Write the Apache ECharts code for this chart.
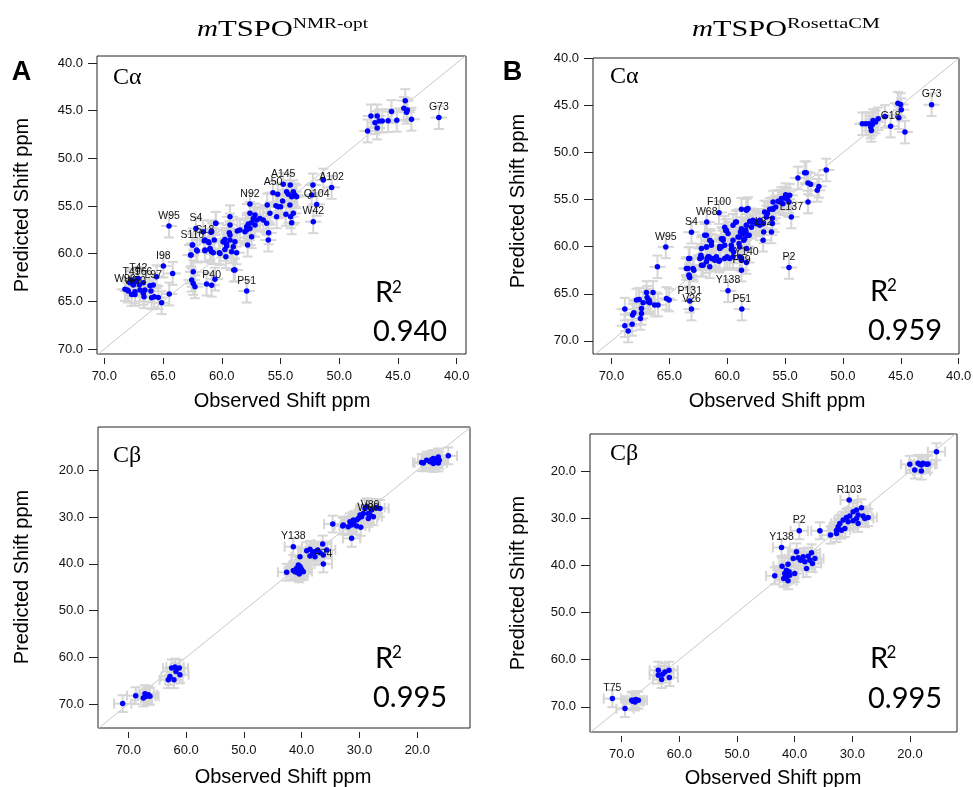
<!DOCTYPE html>
<html><head><meta charset="utf-8">
<script src="https://cdn.jsdelivr.net/npm/echarts@6/dist/echarts.min.js"></script>
<style>html,body{margin:0;padding:0;background:#fff}#c{width:973px;height:787px}</style>
</head><body><div id="c"></div>
<script>
// ---------------- DATA ----------------
const caTicks = [40, 45, 50, 55, 60, 65, 70];
const cbTicks = [20, 30, 40, 50, 60, 70];
const r2Values = ['0.940', '0.959', '0.995', '0.995'];

// Panel A: Calpha, mTSPO NMR-opt  [observed, predicted]
const caNmrPts = [
 [44.38,43.95],[44.5,44.76],[44.2,44.93],[44.27,45.17],[43.85,45.9],[45.55,45.1],[45.1,46.0],[45.84,46.05],[46.6,46.08],[46.77,45.56],[47.3,45.56],[46.96,46.26],[46.77,46.82],[47.59,47.13],[46.34,46.08],
 [51.36,52.28],[52.24,52.8],[52.35,53.85],[54.17,52.8],[54.48,53.5],[53.91,53.5],[53.77,53.85],[54.05,54.03],[54.34,53.78],[53.63,54.03],[54.82,54.48],[55.24,53.78],[55.19,55.08],[55.39,54.97],[54.99,55.08],[54.2,54.9],[53.91,55.77],[54.14,56.13],[54.05,56.76],[54.54,55.87],[56.13,54.9],[55.9,55.77],[55.33,56.13],[56.18,56.82],[56.01,57.81],[56.04,58.57],
 [57.6,55.77],[57.17,55.95],[57.32,56.3],[57.03,56.47],[56.75,56.3],[56.47,56.47],[57.46,56.76],[57.74,56.89],[57.88,57.18],[57.6,57.35],[57.17,57.0],[57.88,57.52],[58.03,57.7],[57.46,58.22],[57.8,59.1],[58.45,57.52],[58.68,57.63],[59.3,56.13],[59.3,57.0],[59.36,57.81],[59.3,58.57],[59.87,58.75],[59.58,59.2],[59.73,59.55],[60.15,59.97],[60.52,56.82],[60.86,57.7],[60.64,58.57],[61.15,58.75],[61.57,57.7],[61.0,59.45],[60.86,59.8],[61.43,59.62],[62.14,59.62],[62.65,60.15],[62.43,61.9],[62.56,62.77],[62.28,63.47],[62.43,63.12],[58.88,61.72],[61.29,63.19],[60.58,62.67],[64.18,62.07],
 [64.47,64.23],[65.12,65.14],[65.4,64.6],[65.55,62.41],[65.74,64.51],[65.97,64.62],[66.03,63.92],[66.54,63.81],[66.11,63.36],[66.62,64.51],[66.96,63.81],[67.02,63.29],[67.25,62.87],[67.67,62.76],[67.82,63.04],[67.53,63.29],[67.96,63.92],[67.67,64.27],[67.39,64.27],[68.04,63.81],[66.68,64.16],
 [62.62,60.14],[62.48,59.09],[62.09,59.72],[61.43,59.69],[60.99,59.55],[60.72,59.9],[60.21,59.9],[59.65,60.31],[59.87,58.74],[59.73,58.5],[59.3,58.04],[59.02,59.27],[59.16,59.79],[58.74,59.9],[58.88,58.74],[59.59,58.99],[58.98,61.71],[61.49,58.64],[61.09,58.85],[60.5,56.82],[60.92,57.76]
];
const caNmrLabNames = ['G73','A145','A102','A50','N92','Q104','W42','W95','S4','S18','S116','I98','P40','P51','T42','T66','L97','T49','W90','W50'];
const caNmrLabPts = [[41.52,45.73],[54.77,52.73],[50.65,53.05],[55.64,53.6],[57.6,54.8],[51.92,54.83],[52.21,56.65],[64.49,57.1],[62.2,57.35],[61.43,58.57],[62.51,59.1],[64.97,61.3],[60.86,63.3],[57.88,63.92],[67.11,62.59],[66.68,63.04],[65.83,63.29],[67.67,63.04],[68.24,63.74],[67.39,63.99]];

// Panel B: Calpha, mTSPO RosettaCM
const caRosPts = [
 [45.25,44.75],[45.02,44.89],[44.96,45.45],[45.17,46.3],[44.64,47.82],[46.37,46.16],[46.95,46.41],[47.18,46.76],[47.46,47.01],[47.75,46.94],[48.04,46.94],[48.33,46.94],[47.6,47.29],[47.54,47.65],[47.4,46.59],
 [51.44,51.85],[53.17,52.14],[53.31,52.14],[53.89,52.7],[53.02,53.23],[52.8,53.37],[52.08,53.59],[52.22,54.01],[53.02,55.25],[54.6,54.54],[54.95,54.47],[55.09,54.82],[55.32,54.89],[55.46,55.25],[54.66,55.25],[54.81,54.96],[55.18,55.43],[55.61,55.18],[56.04,55.25],[55.81,55.78],[56.1,55.96],[56.33,56.03],
 [56.53,56.48],[56.1,56.97],[56.9,57.55],[57.19,57.72],[57.48,57.55],[57.77,57.37],[57.91,57.9],[58.34,57.72],[58.4,58.25],[58.63,58.6],[58.2,58.78],[58.77,58.08],[58.86,58.43],[58.34,56.12],[58.2,55.95],[59.21,57.37],[59.5,57.72],[58.92,58.96],[58.49,59.13],[58.34,60.2],[58.98,59.66],[60.07,58.25],[59.93,58.6],[60.36,59.31],[60.22,59.84],[59.5,59.31],[60.51,60.02],[59.64,60.3],[59.5,61.07],[58.92,61.07],[58.77,61.43],[60.22,61.25],[60.65,61.43],[60.94,61.07],[61.08,61.43],[61.37,61.25],[61.66,61.07],[62.23,61.15],[62.23,61.96],[61.8,61.6],[61.51,62.14],[62.23,60.2],[61.8,60.02],[60.65,60.2],[61.37,59.49],[61.8,58.78],[61.51,59.31],[63.24,61.25],[62.95,62.31],[63.3,63.0],[63.24,63.27],[63.53,62.31],
 [68.85,68.4],[68.56,68.96],[68.22,68.25],[68.18,67.26],[68.07,67.02],[68.85,66.63],[67.84,65.67],[67.61,65.6],[67.41,66.56],[67.41,67.09],[67.5,67.62],[67.27,65.96],[66.98,64.86],[66.84,65.85],[66.69,65.96],[66.41,64.86],[66.27,66.2],[65.98,66.2],[66.92,65.39],[66.75,65.67],[65.25,65.5],[65.02,65.67],[66.03,62.14],
 [63.33,61.25],[63.39,62.31],[63.3,63.09],[62.89,62.49],[62.28,60.9],[62.37,61.25],[62.08,61.96],[61.79,60.02],[61.94,58.78],[61.74,61.25],[61.57,61.08],[61.37,59.84],[61.08,61.25],[60.71,61.54],[60.65,59.98],[60.51,59.16],[60.36,59.16],[60.22,57.93],[60.13,58.29],[60.01,61.08],[59.79,61.25],[59.65,59.84],[59.57,60.19],[59.45,60.55],[59.27,57.37],[59.07,58.96],[58.92,60.02],[58.77,61.25],
 [58.77,56.03],[58.34,56.03],[58.05,57.3],[57.76,57.19],[58.34,57.72],[57.91,57.9],[57.48,57.37],[57.19,57.19],[58.4,58.43],[58.11,58.78],[58.57,59.31],[56.9,59.31],[56.18,58.43],[56.1,57.54],[56.62,56.84],[56.77,56.31],[56.04,56.03]
];
const caRosLabNames = ['G73','G18','L137','L82','F100','W68','S4','W95','Y140','F99','P2','Y138','P131','V26','P51'];
const caRosLabPts = [[42.34,44.92],[45.88,47.19],[54.46,56.84],[56.85,58.43],[60.71,56.38],[61.77,57.37],[63.09,58.46],[65.31,60.02],[58.34,61.68],[58.77,62.49],[54.66,62.21],[59.93,64.69],[63.24,65.78],[63.09,66.63],[58.74,66.63]];

// Panel C: Cbeta, mTSPO NMR-opt
const cbNmrPts = [
 [14.63,16.94],[16.36,17.16],[17.22,17.51],[17.51,17.73],[16.94,18.01],[16.65,17.65],[17.8,18.22],[18.95,18.44],[18.38,17.87],[17.22,18.58],[19.24,18.36],[16.36,18.44],[16.19,17.87],
 [26.45,28.17],[27.14,27.96],[27.89,28.53],[28.18,29.59],[27.6,29.95],[29.34,29.24],[29.91,29.59],[29.05,28.17],[28.76,27.82],[29.63,29.95],[30.49,30.66],[30.2,30.31],[31.07,31.37],[31.36,31.73],[31.94,32.08],[32.8,31.73],[31.65,31.02],[31.07,30.66],[29.78,32.22],[30.49,31.94],[32.9,31.94],[34.63,31.51],[31.36,34.57],[28.47,29.24],
 [39.13,37.2],[38.56,36.92],[37.87,37.41],[37.23,37.06],[36.37,35.78],[35.68,37.06],[36.83,37.63],[36.26,38.12],[38.1,37.77],[37.7,38.48],[38.56,38.34],[40.29,38.48],[40.58,40.26],[40.29,40.61],[40.87,40.97],[41.16,41.68],[40.75,41.89],[40.0,41.27],[40.41,42.17],[42.6,41.82],[41.45,41.46],[39.72,41.68],[40.18,40.97],
 [62.5,62.29],[61.92,62.08],[61.17,62.29],[61.75,63.0],[61.06,63.71],[62.79,64.07],[63.08,64.78],[62.1,64.78],
 [67.11,67.76],[66.54,67.97],[66.82,68.33],[66.25,68.33],[67.4,68.68],[68.72,68.19],[70.97,69.89]
];
const cbNmrLabNames = ['Y138','F74','V80','W80'];
const cbNmrLabPts = [[41.45,36.35],[36.26,40.04],[28.18,29.74],[28.47,30.31]];

// Panel D: Cbeta, mTSPO RosettaCM
const cbRosPts = [
 [15.41,15.9],[20.04,18.58],[19.18,19.79],[18.03,20.0],[18.6,18.37],[18.31,18.58],[17.73,18.37],[17.16,18.58],[18.03,18.73],[16.87,18.51],
 [28.41,27.78],[29.28,28.28],[29.86,28.63],[29.0,29.34],[28.13,29.55],[27.26,29.84],[27.84,30.05],[30.44,29.55],[31.01,29.84],[31.59,30.4],[30.73,30.76],[29.86,30.55],[29.0,31.11],[32.17,31.11],[32.46,31.82],[32.74,32.53],[31.88,32.53],[31.3,32.17],[32.74,33.23],[33.78,33.59],[35.63,32.67],[29.28,30.05],
 [39.68,37.13],[40.26,38.54],[39.39,38.4],[38.53,38.19],[37.66,38.05],[37.08,37.34],[36.5,38.54],[37.37,38.9],[38.24,39.25],[38.99,38.9],[36.92,39.6],[37.95,40.67],[40.0,41.73],[41.15,39.75],[42.19,40.17],[43.46,42.22],[41.44,41.02],[40.97,41.37],[41.73,41.73],[41.44,42.43],[41.15,43.28],[41.9,42.79],[40.86,42.08],
 [63.65,62.25],[62.9,63.1],[62.5,62.6],[61.8,62.25],[61.74,63.81],[63.07,64.23],[63.65,63.31],
 [69.43,70.39],[68.27,68.62],[67.98,68.62],[67.52,68.48],[67.11,68.62],[67.69,68.97],[68.09,68.83]
];
const cbRosLabNames = ['R103','P2','Y138','T75'];
const cbRosLabPts = [[30.55,26.16],[39.21,32.67],[42.28,36.21],[71.62,68.27]];

// typical uncertainty (ppm) drawn as grey error bars
const caErr = [0.7, 1.2];
const cbErr = [1.5, 1.8];

// ---------------- LAYOUT ----------------
const panels = [
 {l:97,  t:56,  w:369, h:298, xr:[39.21,70.62], yr:[39.27,70.52], ticks:caTicks, pts:caNmrPts, labN:caNmrLabNames, labP:caNmrLabPts, err:caErr, hcap:false},
 {l:593, t:58,  w:366, h:296, xr:[39.97,71.6],  yr:[39.95,71.4],  ticks:caTicks, pts:caRosPts, labN:caRosLabNames, labP:caRosLabPts, err:caErr, hcap:false},
 {l:98,  t:427, w:372, h:301, xr:[10.88,75.24], yr:[10.77,75.1],  ticks:cbTicks, pts:cbNmrPts, labN:cbNmrLabNames, labP:cbNmrLabPts, err:cbErr, hcap:true},
 {l:590, t:434, w:367, h:298, xr:[11.85,75.5],  yr:[12.14,75.35], ticks:cbTicks, pts:cbRosPts, labN:cbRosLabNames, labP:cbRosLabPts, err:cbErr, hcap:true}
];

const GREY = '#d6d6d6';
function errRender(ex, ey, hcap) {
  return function (params, api) {
    const x = api.value(0), y = api.value(1);
    const c = api.coord([x, y]);
    const a = api.coord([x + ex, y]), b = api.coord([x - ex, y]);
    const t = api.coord([x, y - ey]), d = api.coord([x, y + ey]);
    const st = {stroke: GREY, lineWidth: 2};
    const cw = 5;
    const ch = [
      {type:'line', shape:{x1:a[0], y1:c[1], x2:b[0], y2:c[1]}, style:st},
      {type:'line', shape:{x1:c[0], y1:t[1], x2:c[0], y2:d[1]}, style:st},
      {type:'line', shape:{x1:c[0]-cw, y1:t[1], x2:c[0]+cw, y2:t[1]}, style:st},
      {type:'line', shape:{x1:c[0]-cw, y1:d[1], x2:c[0]+cw, y2:d[1]}, style:st}
    ];
    if (hcap) {
      ch.push({type:'line', shape:{x1:a[0], y1:c[1]-cw, x2:a[0], y2:c[1]+cw}, style:st});
      ch.push({type:'line', shape:{x1:b[0], y1:c[1]-cw, x2:b[0], y2:c[1]+cw}, style:st});
    }
    return {type:'group', children:ch};
  };
}

const grids = [], xAxes = [], yAxes = [], series = [];
panels.forEach((p, i) => {
  grids.push({left:p.l, top:p.t, width:p.w, height:p.h, show:true, borderColor:'#222', borderWidth:1,
    backgroundColor:'rgba(0,0,0,0)', containLabel:false, outerBoundsMode:'none'});
  xAxes.push({type:'value', gridIndex:i, min:p.xr[0], max:p.xr[1], inverse:true, position:'bottom', offset:4,
    axisLine:{show:false}, splitLine:{show:false},
    axisTick:{show:true, length:6, customValues:p.ticks, lineStyle:{color:'#222', width:1}},
    axisLabel:{show:true, customValues:p.ticks, formatter:v => Number(v).toFixed(1), margin:12, fontSize:13, color:'#111', fontFamily:'Liberation Sans', hideOverlap:false}});
  yAxes.push({type:'value', gridIndex:i, min:p.yr[0], max:p.yr[1], inverse:true, position:'left',
    axisLine:{show:false}, splitLine:{show:false},
    axisTick:{show:true, length:9, customValues:p.ticks, lineStyle:{color:'#222', width:1}},
    axisLabel:{show:true, customValues:p.ticks, formatter:v => Number(v).toFixed(1), margin:14, fontSize:13, color:'#111', fontFamily:'Liberation Sans', hideOverlap:false}});
  series.push({type:'line', xAxisIndex:i, yAxisIndex:i, data:[[0,0],[100,100]], symbol:'none', silent:true, clip:true,
    lineStyle:{color:'#c8c8c8', width:1}, z:1});
  const all = p.pts.concat(p.labP);
  series.push({type:'custom', xAxisIndex:i, yAxisIndex:i, data:all, renderItem:errRender(p.err[0], p.err[1], p.hcap), clip:true, silent:true, z:2});
  series.push({type:'scatter', xAxisIndex:i, yAxisIndex:i, data:p.pts, symbolSize:5.5, itemStyle:{color:'#0000ff', opacity:1}, silent:true, z:3});
  series.push({type:'scatter', xAxisIndex:i, yAxisIndex:i,
    data:p.labP.map((v, k) => ({name:p.labN[k], value:v})), symbolSize:5.5, itemStyle:{color:'#0000ff', opacity:1}, silent:true, z:4,
    label:{show:true, formatter:'{b}', position:'top', distance:2, fontSize:10.5, color:'#111', fontFamily:'Liberation Sans'}});
});

// text measuring for the stretched titles
const mctx = document.createElement('canvas').getContext('2d');
function fitScale(text, font, target) { mctx.font = font; return target / mctx.measureText(text).width; }

const SERIF = '"Liberation Serif", serif';
const SANS = '"Liberation Sans", Arial, sans-serif';
const CAL = 'Lato, "Open Sans", sans-serif';
const graphics = [];
function txt(x, y, text, font, align, extra) {
  graphics.push(Object.assign({type:'text', x:x, y:y, silent:true, z:10,
    style:{text:text, font:font, fill:'#000', textAlign:align || 'left', textVerticalAlign:'middle'}}, extra || {}));
}
// panel letters
txt(21.5, 72.5, 'A', 'bold 27px ' + SANS, 'center');
txt(512.5, 72.5, 'B', 'bold 27px ' + SANS, 'center');
// titles
const titles = [
  {mx:197, tx:218, sx:293, end:368, sup:'NMR-opt'},
  {mx:692, tx:713, sx:787, end:880, sup:'RosettaCM'}
];
titles.forEach(t => {
  const fm = 'italic 23px ' + SERIF, fn = '23px ' + SERIF, fs = '15.5px ' + SERIF;
  txt(t.mx, 30, 'm', fm, 'left', {scaleX: fitScale('m', fm, t.tx - t.mx)});
  txt(t.tx, 30, 'TSPO', fn, 'left', {scaleX: fitScale('TSPO', fn, t.sx - t.tx)});
  txt(t.sx, 23.5, t.sup, fs, 'left', {scaleX: fitScale(t.sup, fs, t.end - t.sx)});
});
// C-alpha / C-beta
txt(113, 78, 'Cα', '24px ' + SERIF);
txt(610, 77, 'Cα', '24px ' + SERIF);
txt(113, 456, 'Cβ', '24px ' + SERIF);
txt(610, 454, 'Cβ', '24px ' + SERIF);
// R^2
const r2pos = [
  {rx:375, ry:293, sx:397, sy:287.5, vx:373, vy:332},
  {rx:870, ry:292, sx:892, sy:286,   vx:868, vy:331},
  {rx:375, ry:659, sx:397, sy:652.5, vx:373, vy:697.5},
  {rx:870, ry:659, sx:891.5, sy:653, vx:868, vy:699}
];
r2pos.forEach((r, i) => {
  txt(r.rx, r.ry, 'R', '29px ' + CAL);
  txt(r.sx, r.sy, '2', '17px ' + CAL, 'center');
  txt(r.vx, r.vy, r2Values[i], '29px ' + CAL);
});
// axis titles
[[282,401],[777,401],[283,777],[773,778]].forEach(p => txt(p[0], p[1], 'Observed Shift ppm', '20px ' + SANS, 'center'));
[[22,205],[518,201],[22,577],[518,583]].forEach(p => txt(p[0], p[1], 'Predicted Shift ppm', '20px ' + SANS, 'center', {rotation: Math.PI / 2}));

const chart = echarts.init(document.getElementById('c'), null, {renderer:'canvas'});
chart.setOption({animation:false, backgroundColor:'#fff', grid:grids, xAxis:xAxes, yAxis:yAxes, series:series, graphic:graphics});
</script></body></html>
